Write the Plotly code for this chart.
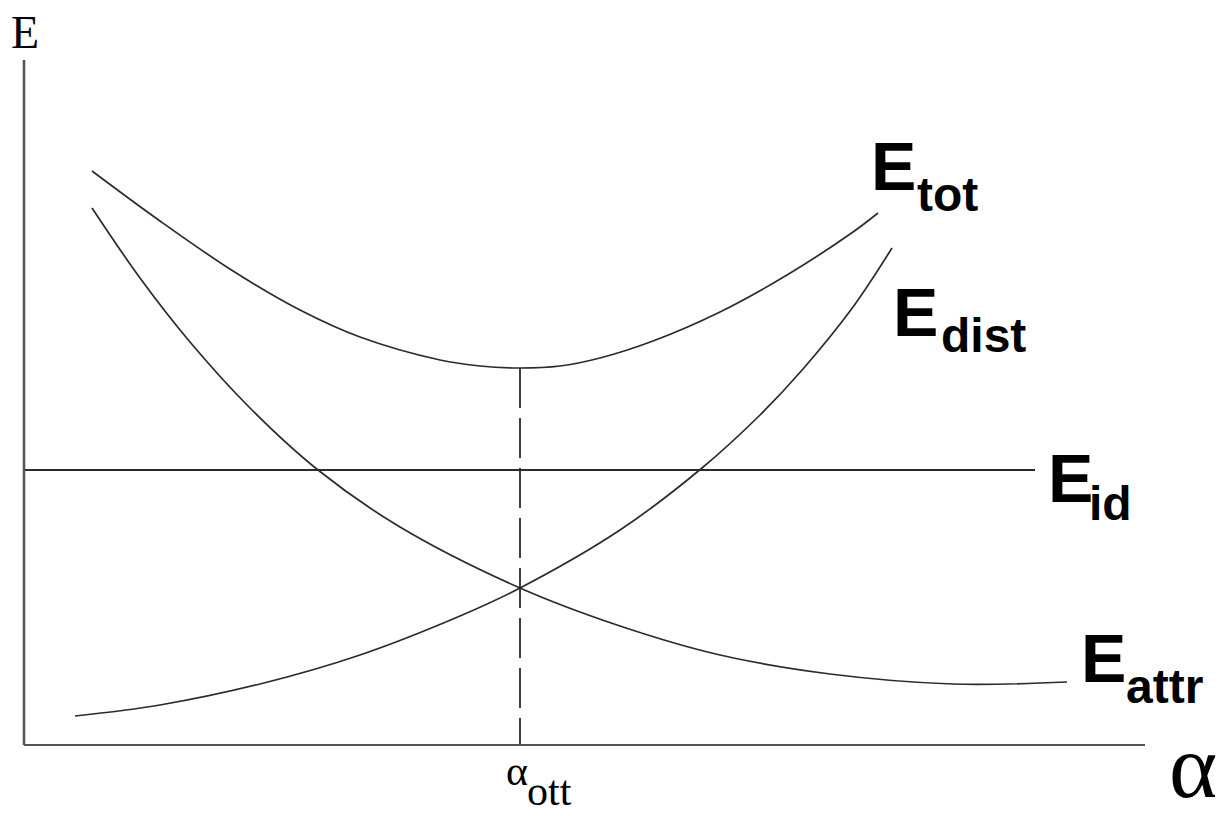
import plotly.graph_objects as go

# page body has an 8px margin, so the figure is drawn 8px in from the corner
OFF = 8
W, H = 1229 - OFF, 816 - OFF
X0, Y0 = 24 - OFF, 745 - OFF  # figure pixel position of the origin (axis corner)

# ---- data (alpha, E), origin at the axis corner ----
tot_alpha = [68, 136, 209, 276, 336, 416, 456, 496, 536, 576, 629, 696, 763, 829, 854]
tot_E = [574, 524, 474, 435, 408, 385, 379, 377, 379, 387, 404, 433, 470, 513, 532]

dist_alpha = [51, 136, 236, 336, 436, 496, 596, 678, 736, 779, 829, 868]
dist_E = [29, 40, 61, 90, 129, 157, 215, 277, 330, 376, 438, 497]

attr_alpha = [68, 116, 166, 226, 294, 376, 496, 596, 696, 806, 929, 1043]
attr_E = [537, 467, 403, 337, 275, 218, 157, 119, 90, 71, 61, 63]

id_alpha = [0, 1011]
id_E = [275, 275]

alpha_opt = 496
alpha_axis_end = 1121
E_axis_top = 685

line_col = "#2b2b2b"
axis_col = "#555555"

fig = go.Figure()
for xs, ys in [(tot_alpha, tot_E), (dist_alpha, dist_E), (attr_alpha, attr_E)]:
    fig.add_trace(go.Scatter(x=xs, y=ys, mode="lines",
                             line=dict(color=line_col, width=1.7, shape="spline", smoothing=1.0),
                             showlegend=False, hoverinfo="skip"))
fig.add_trace(go.Scatter(x=id_alpha, y=id_E, mode="lines",
                         line=dict(color=line_col, width=1.8), showlegend=False, hoverinfo="skip"))
# dashed vertical at optimum, from the E_tot minimum down to the axis
fig.add_trace(go.Scatter(x=[alpha_opt, alpha_opt], y=[min(tot_E), 0], mode="lines",
                         line=dict(color=line_col, width=1.8, dash="40px,10px"),
                         showlegend=False, hoverinfo="skip"))
# axes
fig.add_trace(go.Scatter(x=[0, 0], y=[E_axis_top, 0], mode="lines",
                         line=dict(color=axis_col, width=2.6), showlegend=False, hoverinfo="skip"))
fig.add_trace(go.Scatter(x=[0, alpha_axis_end], y=[0, 0], mode="lines",
                         line=dict(color=axis_col, width=2.2), showlegend=False, hoverinfo="skip"))


def px(x, y):
    # window pixel -> paper fraction
    return (x - OFF) / W, 1 - (y - OFF) / H


def ann(text, x, y, size, family, bold=False):
    xx, yy = px(x, y)
    if bold:
        text = "<b>" + text + "</b>"
    fig.add_annotation(text=text, x=xx, y=yy, xref="paper", yref="paper",
                       xanchor="left", yanchor="middle", showarrow=False,
                       font=dict(size=size, family=family, color="black"),
                       borderpad=0)


SANS = "Liberation Sans, Arial, sans-serif"
SERIF = "Liberation Serif, Times New Roman, serif"

# curve labels: big E + subscript
ann("E", 870, 166, 68, SANS, True)
ann("tot", 916, 194, 48, SANS, True)
ann("E", 892, 312, 68, SANS, True)
ann("dist", 940, 335, 48, SANS, True)
ann("E", 1047, 478, 68, SANS, True)
ann("id", 1088, 503, 48, SANS, True)
ann("E", 1080, 658, 68, SANS, True)
ann("attr", 1125, 686, 48, SANS, True)

# axis labels
ann("E", 10, 32, 46, SERIF)
ann("α", 1168, 766, 92, SERIF)
ann("α", 505, 771, 42, SERIF)
ann("ott", 526, 791, 42, SERIF)

fig.update_layout(
    width=W, height=H,
    margin=dict(l=0, r=0, t=0, b=0),
    paper_bgcolor="white", plot_bgcolor="white",
    xaxis=dict(range=[-X0, W - X0], visible=False, fixedrange=True),
    yaxis=dict(range=[-(H - Y0), Y0], visible=False, fixedrange=True),
    showlegend=False,
)

fig.write_html("out.html")
